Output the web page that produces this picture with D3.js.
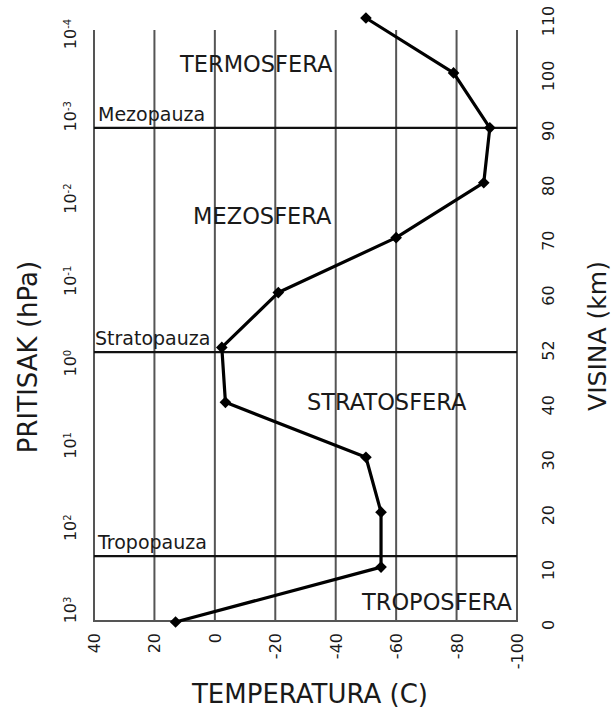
<!DOCTYPE html>
<html><head><meta charset="utf-8">
<script src="https://cdn.jsdelivr.net/npm/d3@7"></script>
<style>
body{margin:0;background:#fff}
text{font-family:"DejaVu Sans",Verdana,sans-serif;fill:#1a1a1a}
</style>
</head><body>
<svg id="c" width="613" height="717"></svg>
<script>
// ---- data ----
const altitudes    = [0, 10, 20, 30, 40, 52, 60, 70, 80, 90, 100, 110];
const temperatures = [13, -55, -55, -50, -3.5, -2.3, -21, -60, -89, -91, -79, -50];
const tempTicks    = [40, 20, 0, -20, -40, -60, -80, -100];
const pressureExp  = [3, 2, 1, 0, -1, -2, -3, -4];
const pauseNames   = ["Tropopauza", "Stratopauza", "Mezopauza"];
const pauseAlts    = [12, 51, 90];
const layerNames   = ["TROPOSFERA", "STRATOSFERA", "MEZOSFERA", "TERMOSFERA"];

// ---- layout ----
const svg = d3.select("#c");
const L = 94, R = 517, T = 30, B = 621;

const x = d3.scaleLinear().domain([40, -100]).range([L, R]);
const yIdx = d3.scaleLinear().domain([0, altitudes.length - 1]).range([622, 18]);
const yAlt = d3.scaleLinear().domain(altitudes).range(altitudes.map((d, i) => yIdx(i)));
const yP = d3.scaleLog().domain([1e3, 1e-4]).range([610, 34]);

// vertical grid
svg.append("g").selectAll("line").data(tempTicks).join("line")
  .attr("x1", d => x(d)).attr("x2", d => x(d))
  .attr("y1", T).attr("y2", B)
  .attr("stroke", "#555").attr("stroke-width", 2);

// bottom line
svg.append("line").attr("x1", L - 1).attr("x2", R + 1).attr("y1", B).attr("y2", B)
  .attr("stroke", "#555").attr("stroke-width", 2);

// pause lines
svg.append("g").selectAll("line").data(pauseAlts).join("line")
  .attr("x1", L).attr("x2", R)
  .attr("y1", d => yAlt(d)).attr("y2", d => yAlt(d))
  .attr("stroke", "#111").attr("stroke-width", 2.2);

svg.append("g").selectAll("text").data(pauseNames).join("text")
  .attr("x", (d, i) => [L + 4, L + 1, L + 4][i])
  .attr("y", (d, i) => yAlt(pauseAlts[i]) - 7)
  .attr("font-size", 19).text(d => d);

// layer labels (placed in data coordinates)
const layerPos = [[-48.7, 2.2], [-30.5, 38.7], [7.2, 72.4], [11.5, 100.2]];
svg.append("g").selectAll("text").data(layerNames).join("text")
  .attr("x", (d, i) => x(layerPos[i][0]))
  .attr("y", (d, i) => yAlt(layerPos[i][1]))
  .attr("font-size", 22.5).text(d => d);

// data line
const pts = altitudes.map((a, i) => [x(temperatures[i]), yAlt(a)]);
svg.append("path").attr("d", d3.line()(pts))
  .attr("fill", "none").attr("stroke", "#000").attr("stroke-width", 3.2).attr("stroke-linejoin", "round");
svg.append("g").selectAll("path").data(pts).join("path")
  .attr("d", d3.symbol(d3.symbolSquare, 68))
  .attr("transform", d => `translate(${d[0]},${d[1]}) rotate(45)`)
  .attr("fill", "#000");

// bottom tick labels
svg.append("g").selectAll("text").data(tempTicks).join("text")
  .attr("transform", d => `translate(${x(d) + 6},633) rotate(-90)`)
  .attr("text-anchor", "end").attr("font-size", 16).text(d => d);

// left tick labels (pressure)
const lt = svg.append("g").selectAll("text").data(pressureExp).join("text")
  .attr("transform", d => `translate(76,${yP(Math.pow(10, d))}) rotate(-90)`)
  .attr("text-anchor", "middle").attr("font-size", 16);
lt.append("tspan").text("10");
lt.append("tspan").attr("dy", "-0.55em").attr("font-size", 10).text(d => d);

// right tick labels (altitude)
svg.append("g").selectAll("text").data(altitudes).join("text")
  .attr("transform", (d, i) => `translate(554,${yIdx(i) + 3}) rotate(-90)`)
  .attr("text-anchor", "middle").attr("font-size", 16).text(d => d);

// axis titles
svg.append("text").attr("transform", "translate(37,357) rotate(-90)")
  .attr("text-anchor", "middle").attr("font-size", 26).text("PRITISAK (hPa)");
svg.append("text").attr("transform", "translate(606,336) rotate(-90)")
  .attr("text-anchor", "middle").attr("font-size", 25).text("VISINA (km)");
svg.append("text").attr("x", 310).attr("y", 703)
  .attr("text-anchor", "middle").attr("font-size", 26).text("TEMPERATURA (C)");
</script>
</body></html>
